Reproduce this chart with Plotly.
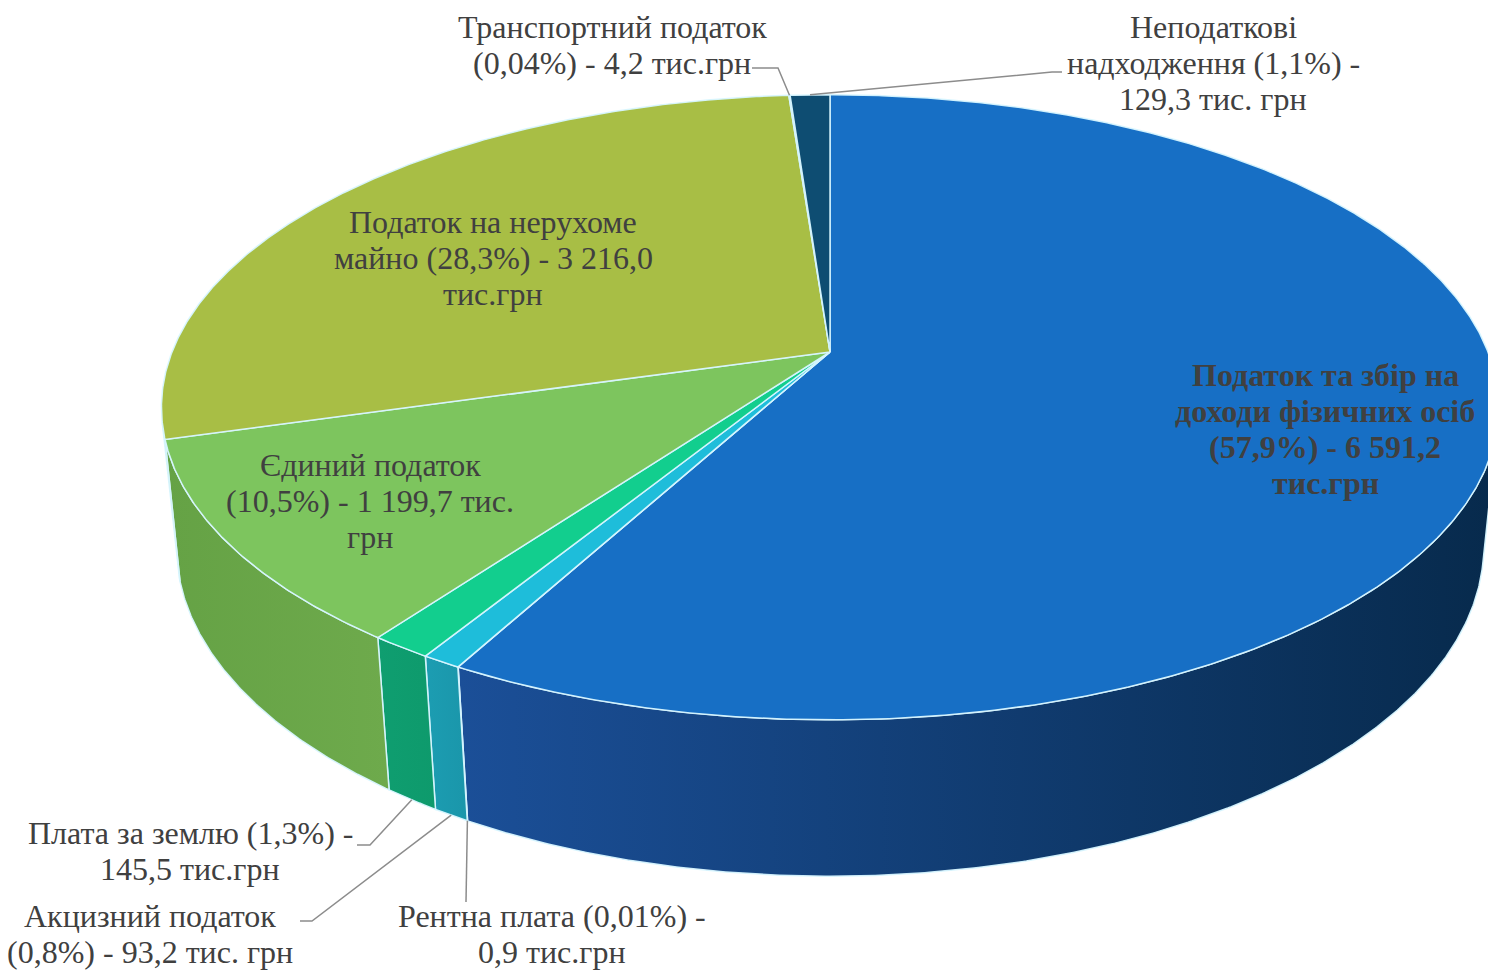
import numpy as np
import plotly.graph_objects as go

# ---------------- data ----------------
categories = [
    "Податок та збір на доходи фізичних осіб",
    "Рентна плата",
    "Акцизний податок",
    "Плата за землю",
    "Єдиний податок",
    "Податок на нерухоме майно",
    "Транспортний податок",
    "Неподаткові надходження",
]
values = [6591.2, 0.9, 93.2, 145.5, 1199.7, 3216.0, 4.2, 129.3]
shares = ["57,9%", "0,01%", "0,8%", "1,3%", "10,5%", "28,3%", "0,04%", "1,1%"]
label_lines = [
    ["Податок та збір на", "доходи фізичних осіб", "(57,9%) - 6 591,2", "тис.грн"],
    ["Рентна плата (0,01%) -", "0,9 тис.грн"],
    ["Акцизний податок", "(0,8%) - 93,2 тис. грн"],
    ["Плата за землю (1,3%) -", "145,5 тис.грн"],
    ["Єдиний податок", "(10,5%) - 1 199,7 тис.", "грн"],
    ["Податок на нерухоме", "майно (28,3%) - 3 216,0", "тис.грн"],
    ["Транспортний податок", "(0,04%) - 4,2 тис.грн"],
    ["Неподаткові", "надходження (1,1%) -", "129,3 тис. грн"],
]

# ---------------- style ----------------
top_colors = ["#176FC5", "#1C8FC8", "#1EBDDA", "#12CE8E", "#7DC55E", "#A8BE45", "#3D8FA8", "#0E4D72"]
wall_colors = [
    ("#1B4F98", "#072A4C"),
    ("#1A7FA8", "#1A7FA8"),
    ("#1C9DB2", "#1A96AA"),
    ("#0F9E70", "#0E9A6C"),
    ("#65A245", "#6EAA4C"),
    ("#8DA13A", "#8DA13A"),
    ("#2E708A", "#2E708A"),
    ("#0B3A57", "#0B3A57"),
]
edge_color = "rgba(215,245,255,0.95)"
text_color = "#404040"
FONT = "Liberation Serif"
FSIZE = 32
LINE_H = 36

# label layout: x centre, y of first line, bold flag, leader anchor points, leader target
label_layout = [
    (1325, 375, True, None, None),
    (552, 916, False, [(466, 902)], "bottom"),
    (150, 916, False, [(300, 921), (312, 921)], "bottom"),
    (190, 833, False, [(357, 845), (370, 845)], "bottom"),
    (370, 465, False, None, None),
    (493, 222, False, None, None),
    (612, 27, False, [(752, 68), (778, 68)], "top"),
    (1213, 27, False, [(1062, 72), (1052, 72)], "top"),
]

# 3D pie geometry (pixel space)
CX, CY = 830, 352
R = 658
ELEV = np.deg2rad(27.4)
DIST = 5.02
DEPTH = 0.24


def project(phi_deg, y, r=1.0):
    phi = np.deg2rad(phi_deg)
    x = r * np.sin(phi)
    z = -r * np.cos(phi)
    u = y * np.cos(ELEV) - z * np.sin(ELEV)
    w = z * np.cos(ELEV) + y * np.sin(ELEV)
    s = DIST / (DIST - w)
    return CX + R * x * s, CY - R * u * s


total = float(np.sum(values))
cum = np.concatenate([[0.0], np.cumsum(values)])
starts = 360.0 * cum[:-1] / total
ends = 360.0 * cum[1:] / total

vis0 = np.degrees(np.arccos(-1.0 / (DIST * np.cos(ELEV))))
vis1 = 360.0 - vis0

fig = go.Figure()

# side walls
for i, cat in enumerate(categories):
    a0 = max(starts[i], vis0)
    a1 = min(ends[i], vis1)
    if a1 <= a0:
        continue
    n = max(4, int((a1 - a0) * 3))
    ang = np.linspace(a0, a1, n)
    tx, ty = project(ang, 0.0)
    bx, by = project(ang[::-1], -DEPTH)
    xs = np.concatenate([tx, bx, tx[:1]])
    ys = np.concatenate([ty, by, ty[:1]])
    c0, c1 = wall_colors[i]
    fig.add_trace(go.Scatter(
        x=xs, y=ys, mode="lines", fill="toself",
        fillgradient=dict(type="horizontal", colorscale=[[0, c0], [1, c1]]),
        line=dict(color=edge_color, width=1.5),
        hoverinfo="skip", showlegend=False,
    ))

# top faces
for i, cat in enumerate(categories):
    a0, a1 = starts[i], ends[i]
    n = max(3, int((a1 - a0) * 3))
    ang = np.linspace(a0, a1, n)
    rx, ry = project(ang, 0.0)
    xs = np.concatenate([[CX], rx, [CX]])
    ys = np.concatenate([[CY], ry, [CY]])
    fig.add_trace(go.Scatter(
        x=xs, y=ys, mode="lines", fill="toself", fillcolor=top_colors[i],
        line=dict(color=edge_color, width=1.5),
        name=cat, text=f"{cat}: {values[i]} тис. грн ({shares[i]})",
        hoverinfo="text", showlegend=False,
    ))

# labels and leader lines
shapes = []
for i, cat in enumerate(categories):
    lx, ly, bold, pts, target = label_layout[i]
    for k, line in enumerate(label_lines[i]):
        txt = f"<b>{line}</b>" if bold else line
        fig.add_annotation(
            x=lx, y=ly + k * LINE_H, text=txt, showarrow=False,
            xanchor="center", yanchor="middle", align="center",
            font=dict(family=FONT, size=FSIZE, color=text_color),
        )
    if pts:
        mid = (starts[i] + ends[i]) / 2.0
        yy = 0.0 if target == "top" else -DEPTH
        ex, ey = project(mid, yy)
        path = "M " + " L ".join(f"{px},{py}" for px, py in pts) + f" L {float(ex):.1f},{float(ey):.1f}"
        shapes.append(dict(type="path", path=path, xref="x", yref="y",
                           line=dict(color="#8C8C8C", width=1.5)))

fig.update_layout(
    width=1488, height=970,
    margin=dict(l=0, r=0, t=0, b=0),
    paper_bgcolor="white", plot_bgcolor="white",
    xaxis=dict(range=[0, 1488], visible=False, fixedrange=True),
    yaxis=dict(range=[970, 0], visible=False, fixedrange=True),
    shapes=shapes,
    showlegend=False,
)

fig.write_html(
    "out.html",
    config={"displayModeBar": False},
    post_script="document.body.style.margin='0px';document.body.style.overflow='hidden';",
)
